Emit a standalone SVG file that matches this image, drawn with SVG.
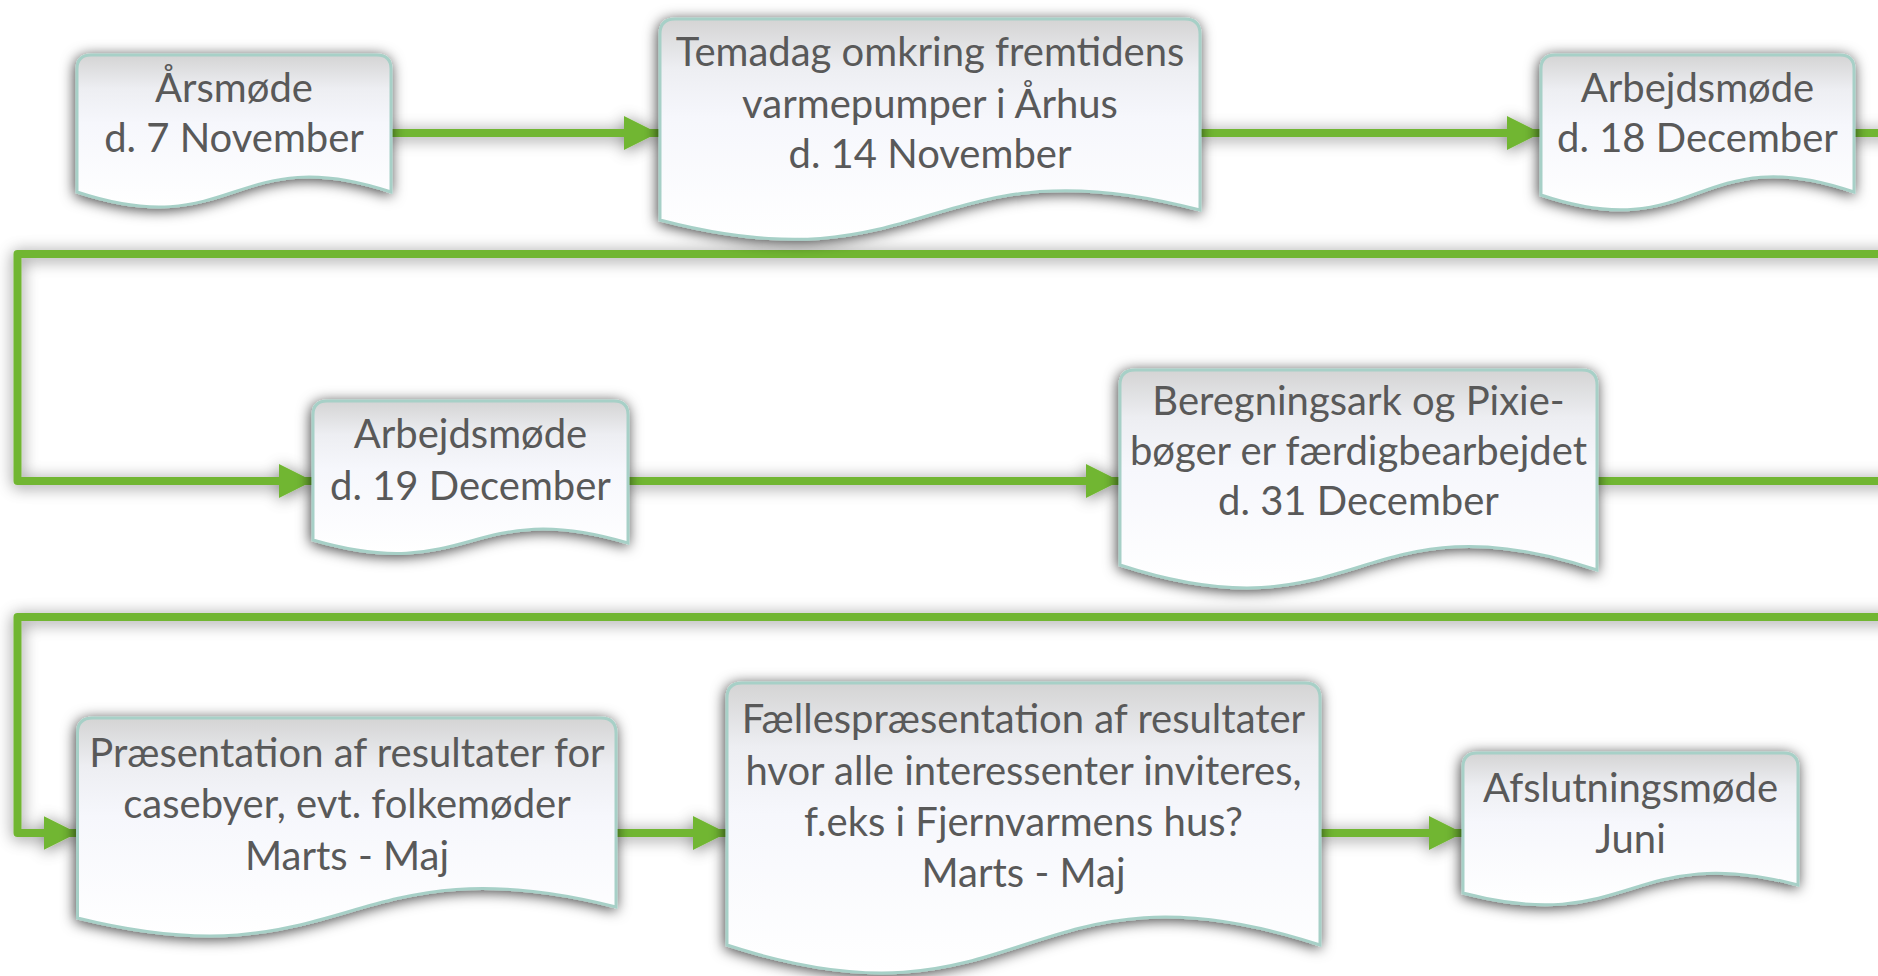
<svg xmlns="http://www.w3.org/2000/svg" width="1878" height="976" viewBox="0 0 1878 976">
<defs>
<linearGradient id="fillG" x1="0" y1="0" x2="0" y2="1">
<stop offset="0" stop-color="#D4D4D4"/>
<stop offset="0.22" stop-color="#EDEEF2"/>
<stop offset="0.45" stop-color="#F6F7FC"/>
<stop offset="1" stop-color="#FFFFFF"/>
</linearGradient>
<filter id="shadowN" x="-20%" y="-25%" width="140%" height="150%">
<feGaussianBlur in="SourceAlpha" stdDeviation="7"/>
<feOffset dx="-1" dy="2" result="b"/>
<feFlood flood-color="#000" flood-opacity="0.75"/>
<feComposite in2="b" operator="in"/>
<feMerge><feMergeNode/><feMergeNode in="SourceGraphic"/></feMerge>
</filter>
<filter id="shadowC" filterUnits="userSpaceOnUse" x="0" y="0" width="1878" height="976">
<feGaussianBlur in="SourceAlpha" stdDeviation="8"/>
<feOffset dx="0" dy="2" result="b"/>
<feFlood flood-color="#000" flood-opacity="0.5"/>
<feComposite in2="b" operator="in"/>
<feMerge><feMergeNode/><feMergeNode in="SourceGraphic"/></feMerge>
</filter>
<marker id="arrow" markerUnits="userSpaceOnUse" markerWidth="36" markerHeight="36" refX="34" refY="17" orient="auto">
<path d="M0,0 L34,17 L0,34 Z" fill="#71B632"/>
</marker>
<style>
.conn{fill:none;stroke:#71B632;stroke-width:8;stroke-linecap:round;stroke-linejoin:round}
.shape{fill:url(#fillG);stroke:#A7D0C7;stroke-width:3;filter:url(#shadowN)}
.lbl{font-family:Lato,"Open Sans","Liberation Sans",sans-serif;font-size:40px;fill:#595959;text-anchor:middle}
</style>
</defs>
<rect width="1878" height="976" fill="#FFFFFF"/>
<g id="connectors" filter="url(#shadowC)">
<path class="conn" d="M389,133 H658" marker-end="url(#arrow)"/>
<path class="conn" d="M1200,133 H1541" marker-end="url(#arrow)"/>
<path class="conn" d="M1854,133 H1905 V254 H17.5 V481 H313" marker-end="url(#arrow)"/>
<path class="conn" d="M628,481 H1120" marker-end="url(#arrow)"/>
<path class="conn" d="M1597,481 H1905 V617 H17.5 V833 H77.5" marker-end="url(#arrow)"/>
<path class="conn" d="M616,833 H727" marker-end="url(#arrow)"/>
<path class="conn" d="M1320,833 H1463" marker-end="url(#arrow)"/>
</g>
<g id="node-1">
<path class="shape" d="M77,69 Q77,55 91,55 H377 Q391,55 391,69 V192 C234,140 234,244 77,192 Z"/>
<text class="lbl" x="234" y="102">Årsmøde</text>
<text class="lbl" x="234" y="152">d. 7 November</text>
</g>
<g id="node-2">
<path class="shape" d="M660,34 Q660,19 675,19 H1185 Q1200,19 1200,34 V210 C930,139 930,291 660,220 Z"/>
<text class="lbl" x="930" y="66">Temadag omkring fremtidens</text>
<text class="lbl" x="930" y="118">varmepumper i Århus</text>
<text class="lbl" x="930" y="168">d. 14 November</text>
</g>
<g id="node-3">
<path class="shape" d="M1541,69 Q1541,55 1555,55 H1840 Q1854,55 1854,69 V192 C1697.5,138 1697.5,248 1541,195 Z"/>
<text class="lbl" x="1697.5" y="102">Arbejdsmøde</text>
<text class="lbl" x="1697.5" y="152">d. 18 December</text>
</g>
<g id="node-4">
<path class="shape" d="M313,415 Q313,401 327,401 H614 Q628,401 628,415 V543 C470.5,496 470.5,586 313,540 Z"/>
<text class="lbl" x="470.5" y="448">Arbejdsmøde</text>
<text class="lbl" x="470.5" y="500">d. 19 December</text>
</g>
<g id="node-5">
<path class="shape" d="M1120,385 Q1120,370 1135,370 H1582 Q1597,370 1597,385 V570 C1358.5,491 1358.5,643 1120,565 Z"/>
<text class="lbl" x="1358.5" y="415">Beregningsark og Pixie-</text>
<text class="lbl" x="1358.5" y="465">bøger er færdigbearbejdet</text>
<text class="lbl" x="1358.5" y="515">d. 31 December</text>
</g>
<g id="node-6">
<path class="shape" d="M77.5,733 Q77.5,718 92.5,718 H601 Q616,718 616,733 V907 C347,839 347,985 77.5,918 Z"/>
<text class="lbl" x="347" y="767">Præsentation af resultater for</text>
<text class="lbl" x="347" y="818">casebyer, evt. folkemøder</text>
<text class="lbl" x="347" y="870">Marts - Maj</text>
</g>
<g id="node-7">
<path class="shape" d="M727,698 Q727,683 742,683 H1305 Q1320,683 1320,698 V945 C1023.5,848 1023.5,1042 727,945 Z"/>
<text class="lbl" x="1023.5" y="733">Fællespræsentation af resultater</text>
<text class="lbl" x="1023.5" y="785">hvor alle interessenter inviteres,</text>
<text class="lbl" x="1023.5" y="836">f.eks i Fjernvarmens hus?</text>
<text class="lbl" x="1023.5" y="887">Marts - Maj</text>
</g>
<g id="node-8">
<path class="shape" d="M1463,767 Q1463,753 1477,753 H1784 Q1798,753 1798,767 V885 C1630.5,841 1630.5,937 1463,893 Z"/>
<text class="lbl" x="1630.5" y="802">Afslutningsmøde</text>
<text class="lbl" x="1630.5" y="853">Juni</text>
</g>
</svg>
